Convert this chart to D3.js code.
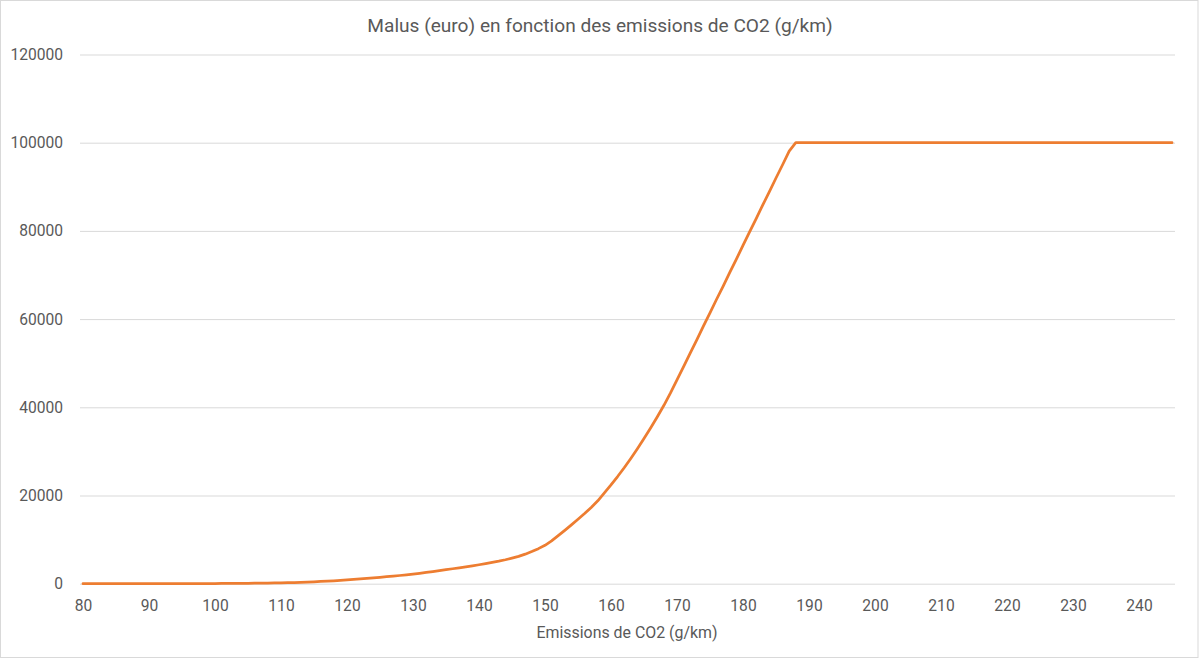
<!DOCTYPE html>
<html>
<head>
<meta charset="utf-8">
<script src="https://cdn.jsdelivr.net/npm/d3@7"></script>
<style>
  html, body { margin: 0; padding: 0; background: #fff; }
  svg { display: block; }
  text { font-family: Roboto, "Liberation Sans", sans-serif; fill: #595959; }
</style>
</head>
<body>
<svg id="chart" width="1200" height="659"></svg>
<script>
// ---- Data ----
const title = "Malus (euro) en fonction des emissions de CO2 (g/km)";
const xAxisTitle = "Emissions de CO2 (g/km)";
const emissions = d3.range(80, 246); // g/km categories 80..245
const malus = [
  0, 0, 0, 0, 0, 0, 0, 0, 0, 0,                      // 80-89
  0, 0, 0, 0, 0, 0, 0, 0, 0, 0,                      // 90-99
  0, 50, 60, 75, 90, 100, 110, 125, 150, 175,        // 100-109
  200, 230, 260, 300, 350, 420, 500, 580, 660, 760,  // 110-119
  860, 960, 1070, 1190, 1320, 1460, 1590, 1720, 1860, 2000, // 120-129
  2170, 2350, 2550, 2760, 2970, 3180, 3390, 3600, 3820, 4050, // 130-139
  4300, 4560, 4830, 5110, 5430, 5800, 6200, 6700, 7300, 7950, // 140-149
  8700, 9700, 10900, 12100, 13350, 14600, 15900, 17300, 18800, 20600, // 150-159
  22400, 24300, 26300, 28400, 30600, 32900, 35300, 37800, 40400, 43200, // 160-169
  46200, 49200, 52300, 55300, 58400, 61400, 64500, 67500, 70600, 73600, // 170-179
  76700, 79800, 82800, 85900, 88900, 92000, 95000, 98100, 100000, 100000, // 180-189
  100000, 100000, 100000, 100000, 100000, 100000, 100000, 100000, 100000, 100000, // 190-199
  100000, 100000, 100000, 100000, 100000, 100000, 100000, 100000, 100000, 100000, // 200-209
  100000, 100000, 100000, 100000, 100000, 100000, 100000, 100000, 100000, 100000, // 210-219
  100000, 100000, 100000, 100000, 100000, 100000, 100000, 100000, 100000, 100000, // 220-229
  100000, 100000, 100000, 100000, 100000, 100000, 100000, 100000, 100000, 100000, // 230-239
  100000, 100000, 100000, 100000, 100000, 100000     // 240-245
];
const xTicks = [80, 90, 100, 110, 120, 130, 140, 150, 160, 170, 180, 190, 200, 210, 220, 230, 240];
const yTicks = [0, 20000, 40000, 60000, 80000, 100000, 120000];

// ---- Layout ----
const W = 1200, H = 659;
const plotLeft = 80, plotRight = 1175;
const svg = d3.select("#chart");

svg.append("rect")
  .attr("x", 0.5).attr("y", 0.5)
  .attr("width", W - 2.5).attr("height", H - 2)
  .attr("fill", "#fff").attr("stroke", "#D9D9D9").attr("stroke-width", 1);

const x = d3.scaleLinear().domain([80, 245]).range([83, 1172]);
const y = d3.scaleLinear().domain([0, 120000]).range([583.7, 54.5]);

// Y axis with gridlines
const yAxis = svg.append("g")
  .attr("transform", `translate(${plotLeft},0)`)
  .call(d3.axisLeft(y).tickValues(yTicks).tickFormat(d3.format("d"))
    .tickSize(-(plotRight - plotLeft)).tickPadding(17));
yAxis.select(".domain").remove();
yAxis.selectAll(".tick line").attr("stroke", "#D9D9D9").attr("stroke-width", 1);
yAxis.selectAll(".tick text").style("font-size", "15.6px").attr("fill", "#595959");

// X axis labels
const xAxis = svg.append("g")
  .attr("transform", `translate(0,${y(0)})`)
  .call(d3.axisBottom(x).tickValues(xTicks).tickFormat(d3.format("d"))
    .tickSize(0).tickPadding(16));
xAxis.select(".domain").remove();
xAxis.selectAll(".tick text").style("font-size", "15.6px").attr("fill", "#595959");

// Line
const line = d3.line()
  .x((d, i) => x(emissions[i]))
  .y(d => y(d))
  .curve(d3.curveLinear);
svg.append("path")
  .datum(malus)
  .attr("d", line)
  .attr("fill", "none")
  .attr("stroke", "#ED7D31")
  .attr("stroke-width", 2.75)
  .attr("stroke-linejoin", "round")
  .attr("stroke-linecap", "round");

// Title
svg.append("text")
  .attr("x", 600).attr("y", 32)
  .attr("text-anchor", "middle")
  .style("font-size", "19.1px")
  .text(title);

// X axis title
svg.append("text")
  .attr("x", 627).attr("y", 638)
  .attr("text-anchor", "middle")
  .style("font-size", "15.9px")
  .text(xAxisTitle);
</script>
</body>
</html>
